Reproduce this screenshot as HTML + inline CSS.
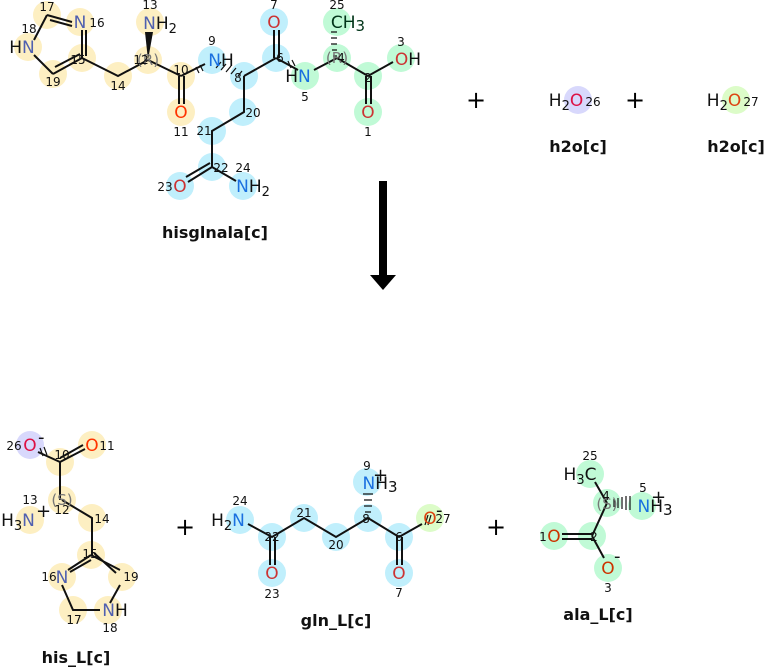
<!DOCTYPE html>
<html><head><meta charset="utf-8"><style>
html,body{margin:0;padding:0;background:#fff;}
svg{display:block;font-family:"DejaVu Sans","Liberation Sans",sans-serif;}
.n{font-size:12px;fill:#111;}
.a{font-size:17px;}
.l{font-size:16px;font-weight:bold;fill:#111;text-anchor:middle;}
.p{font-size:24px;fill:#000;text-anchor:middle;}
</style></head><body>
<svg width="764" height="667" viewBox="0 0 764 667">
<g>
<g fill="#fdefc2">
<circle cx="47" cy="15" r="14"/><circle cx="80" cy="22" r="14"/><circle cx="28" cy="47" r="14"/><circle cx="82" cy="58" r="14"/><circle cx="53" cy="74" r="14"/><circle cx="118" cy="76" r="14"/><circle cx="148" cy="60" r="14"/><circle cx="150" cy="22" r="14"/><circle cx="181" cy="76" r="14"/><circle cx="181" cy="112" r="14"/>
</g>
<g fill="#c0effc">
<circle cx="212" cy="60" r="14"/><circle cx="244" cy="76" r="14"/><circle cx="276" cy="58" r="14"/><circle cx="274" cy="22" r="14"/><circle cx="243" cy="112" r="14"/><circle cx="212" cy="131" r="14"/><circle cx="212" cy="167" r="14"/><circle cx="180" cy="186" r="14"/><circle cx="243" cy="186" r="14"/>
</g>
<g fill="#c0fad6">
<circle cx="305" cy="76" r="14"/><circle cx="337" cy="58" r="14"/><circle cx="337" cy="22" r="14"/><circle cx="368" cy="76" r="14"/><circle cx="401" cy="58" r="14"/><circle cx="368" cy="112" r="14"/>
</g>
<circle cx="578" cy="100" r="14" fill="#d8d8fc"/><circle cx="736" cy="100" r="14" fill="#dcfcc8"/>
<circle cx="30" cy="445" r="14" fill="#d8d8fc"/>
<g fill="#fdefc2">
<circle cx="92" cy="445" r="14"/><circle cx="60" cy="462" r="14"/><circle cx="62" cy="500" r="14"/><circle cx="30" cy="520" r="14"/><circle cx="92" cy="518" r="14"/><circle cx="91" cy="555" r="14"/><circle cx="62" cy="577" r="14"/><circle cx="122" cy="577" r="14"/><circle cx="73" cy="610" r="14"/><circle cx="108" cy="610" r="14"/>
</g>
<g fill="#c0effc">
<circle cx="240" cy="520" r="14"/><circle cx="272" cy="537" r="14"/><circle cx="272" cy="573" r="14"/><circle cx="304" cy="518" r="14"/><circle cx="336" cy="537" r="14"/><circle cx="368" cy="518" r="14"/><circle cx="367" cy="482" r="14"/><circle cx="399" cy="537" r="14"/><circle cx="399" cy="573" r="14"/>
</g>
<circle cx="430" cy="518" r="14" fill="#dcfcc8"/>
<g fill="#c0fad6">
<circle cx="590" cy="474" r="14"/><circle cx="607" cy="503" r="14"/><circle cx="642" cy="506" r="14"/><circle cx="592" cy="536" r="14"/><circle cx="554" cy="536" r="14"/><circle cx="608" cy="568" r="14"/>
</g>
</g>
<g stroke="#111" stroke-width="2" fill="none">
<path d="M34,40 L47,15 M47,15 L72,22 M50,20 L72,26 M82,30 L82,58 M86,30 L86,56 M82,58 L53,74 M80,54 L55,67 M53,74 L34,55 M82,58 L118,76 L148,60 M148,60 L181,76 M179,76 V104 M184,76 V104 M181,76 L205,64 M244,76 L276,58 M274,58 V30 M279,58 V30 M276,58 L298,70 M314,70 L337,58 L368,76 L393,62 M366,76 V104 M371,76 V104 M244,76 V112 L212,131 V167 M212,167 L188,182 M210,163 L186,177 M212,167 L236,181"/>
<path d="M38,452 L60,462 M60,462 L85,449 M60,458 L83,445 M60,462 V500 M62,500 L92,518 V555 M91,555 L68,570 M91,560 L70,572 M91,555 L120,570 M94,553 L116,573 M62,585 L73,610 L100,610 M120,585 L110,603"/>
<path d="M248,524 L272,537 L304,518 L336,537 L368,518 L399,537 L422,524 M270,537 V565 M275,537 V565 M397,537 V565 M402,537 V565"/>
<path d="M595,482 L607,503 M607,503 L592,536 M592,536 L604,558 M562,534 H592 M562,539 H592"/>
</g>
<polygon points="148,60 145,32 153,32" fill="#111"/>
<g stroke="#111" stroke-width="1.2">
<path d="M216,68 L221,62 M221,70 L226,64 M226,72 L231,66 M231,74 L236,68 M238,76 L242,71"/>
<path d="M337,56 L333,56 M337,50 L332,50 M337,44 L331,44 M337,38 L331,38 M337,32 L331,32"/>
<path d="M614,499 V507 M618,498 V508 M622,497 V509 M626,496 V510 M630,496 V510"/>
<path d="M366,518 H370 M365,512 H371 M364,506 H372 M364,500 H372 M363,494 H373"/>
<path d="M428,515 L425,525 M431,515 L428,525"/>
<path d="M196,67 L199,73 M200,65 L203,71"/>
<path d="M288,61 L291,68 M292,60 L295,66"/>
<path d="M40,448 L43,456 M44,447 L47,455"/>
</g>
<g class="a" text-anchor="middle">
<text x="80" y="28" fill="#5060b0">N</text>
<text x="22" y="53"><tspan fill="#111">H</tspan><tspan fill="#5060b0">N</tspan></text>
<text x="160" y="29"><tspan fill="#5060b0">N</tspan><tspan fill="#111">H</tspan><tspan font-size="13" dy="4" fill="#111">2</tspan></text>
<text x="181" y="118" fill="#ff3300">O</text>
<text x="221" y="66"><tspan fill="#1a70e0">N</tspan><tspan fill="#111">H</tspan></text>
<text x="274" y="28" fill="#cc3333">O</text>
<text x="298" y="82"><tspan fill="#111">H</tspan><tspan fill="#1a70e0">N</tspan></text>
<text x="348" y="28" fill="#003318">CH<tspan font-size="15" dy="3">3</tspan></text>
<text x="408" y="65"><tspan fill="#cc3333">O</tspan><tspan fill="#111">H</tspan></text>
<text x="368" y="118" fill="#cc3333">O</text>
<text x="180" y="192" fill="#cc3333">O</text>
<text x="253" y="192"><tspan fill="#1a70e0">N</tspan><tspan fill="#111">H</tspan><tspan font-size="13" dy="4" fill="#111">2</tspan></text>
<text x="566" y="106" fill="#111">H<tspan font-size="13" dy="4">2</tspan><tspan dy="-4" fill="#dd1144">O</tspan></text>
<text x="724" y="106" fill="#111">H<tspan font-size="13" dy="4">2</tspan><tspan dy="-4" fill="#dd4411">O</tspan></text>
<text x="30" y="451" fill="#dd1144">O</text>
<text x="92" y="451" fill="#ff3300">O</text>
<text x="18" y="526"><tspan fill="#111">H</tspan><tspan font-size="13" dy="4" fill="#111">3</tspan><tspan dy="-4" fill="#5060b0">N</tspan></text>
<text x="62" y="583" fill="#5060b0">N</text>
<text x="115" y="616"><tspan fill="#5060b0">N</tspan><tspan fill="#111">H</tspan></text>
<text x="228" y="526"><tspan fill="#111">H</tspan><tspan font-size="13" dy="4" fill="#111">2</tspan><tspan dy="-4" fill="#1a70e0">N</tspan></text>
<text x="272" y="579" fill="#cc3333">O</text>
<text x="380" y="489"><tspan fill="#1a70e0">N</tspan><tspan fill="#111">H</tspan><tspan font-size="15" dy="3" fill="#111">3</tspan></text>
<text x="399" y="579" fill="#cc3333">O</text>
<text x="430" y="524" fill="#dd4411">O</text>
<text x="580" y="480" fill="#111">H<tspan font-size="13" dy="4">3</tspan><tspan dy="-4">C</tspan></text>
<text x="655" y="512"><tspan fill="#1a70e0">N</tspan><tspan fill="#111">H</tspan><tspan font-size="15" dy="3" fill="#111">3</tspan></text>
<text x="554" y="542" fill="#cc3300">O</text>
<text x="608" y="574" fill="#cc3300">O</text>
</g>
<g font-size="18" fill="#111">
<text x="38" y="443">-</text><text x="36" y="517">+</text><text x="373" y="481">+</text><text x="436" y="516">-</text><text x="651" y="503">+</text><text x="614" y="562">-</text>
</g>
<g font-size="15" fill="#777" text-anchor="middle">
<text x="148" y="65">(R)</text><text x="337" y="63">(R)</text><text x="62" y="505">(S)</text><text x="607" y="509">(S)</text>
</g>
<g class="n" text-anchor="middle">
<text x="47" y="11">17</text><text x="97" y="27">16</text><text x="29" y="33">18</text><text x="78" y="64">15</text><text x="53" y="86">19</text><text x="118" y="90">14</text><text x="141" y="64">12</text><text x="150" y="9">13</text><text x="181" y="74">10</text><text x="181" y="136">11</text>
<text x="212" y="45">9</text><text x="238" y="82">8</text><text x="280" y="62">6</text><text x="274" y="9">7</text><text x="253" y="117">20</text><text x="204" y="135">21</text><text x="221" y="172">22</text><text x="165" y="191">23</text><text x="243" y="172">24</text>
<text x="305" y="101">5</text><text x="341" y="62">4</text><text x="337" y="9">25</text><text x="368" y="82">2</text><text x="401" y="46">3</text><text x="368" y="136">1</text>
<text x="593" y="106">26</text><text x="751" y="106">27</text>
<text x="14" y="450">26</text><text x="107" y="450">11</text><text x="62" y="459">10</text><text x="62" y="514">12</text><text x="30" y="504">13</text><text x="102" y="523">14</text><text x="90" y="558">15</text><text x="49" y="581">16</text><text x="131" y="581">19</text><text x="74" y="624">17</text><text x="110" y="632">18</text>
<text x="240" y="505">24</text><text x="272" y="541">22</text><text x="272" y="598">23</text><text x="304" y="517">21</text><text x="336" y="549">20</text><text x="366" y="523">8</text><text x="367" y="470">9</text><text x="399" y="541">6</text><text x="399" y="597">7</text><text x="443" y="523">27</text>
<text x="590" y="460">25</text><text x="606" y="500">4</text><text x="643" y="492">5</text><text x="594" y="541">2</text><text x="543" y="541">1</text><text x="608" y="592">3</text>
</g>
<text class="l" x="215" y="238">hisglnala[c]</text>
<text class="l" x="578" y="152">h2o[c]</text>
<text class="l" x="736" y="152">h2o[c]</text>
<text class="l" x="76" y="663">his_L[c]</text>
<text class="l" x="336" y="626">gln_L[c]</text>
<text class="l" x="598" y="620">ala_L[c]</text>
<text class="p" x="476" y="108">+</text><text class="p" x="635" y="108">+</text><text class="p" x="185" y="535">+</text><text class="p" x="496" y="535">+</text>
<rect x="379" y="181" width="8" height="96" fill="#000"/>
<polygon points="370,275 396,275 383,290" fill="#000"/>
</svg>
</body></html>
